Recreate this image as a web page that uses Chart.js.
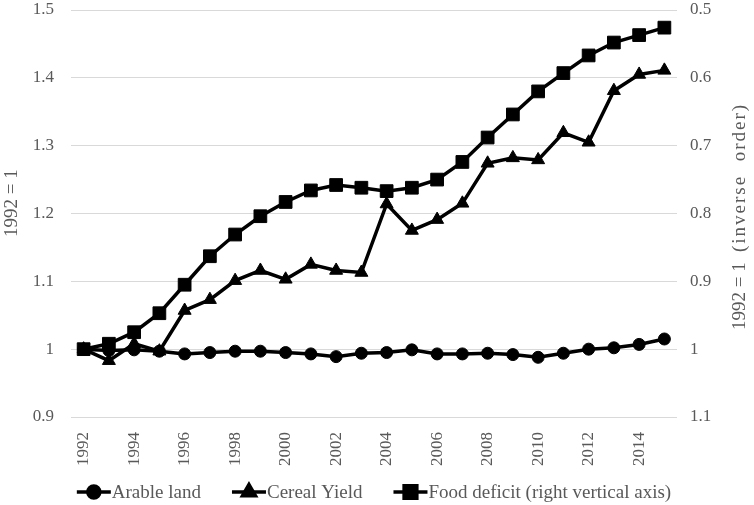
<!DOCTYPE html>
<html>
<head>
<meta charset="utf-8">
<script src="https://cdn.jsdelivr.net/npm/chart.js@4.4.1/dist/chart.umd.min.js"></script>
<style>
  html, body { margin: 0; padding: 0; background: #fff; }
  #wrap { width: 754px; height: 505px; position: relative; }
</style>
</head>
<body>
<div id="wrap"><canvas id="chart"></canvas></div>
<script>
// Данные графика (1992 = 1)
const years = ['1992', '1993', '1994', '1995', '1996', '1997', '1998', '1999', '2000', '2001', '2002', '2003',
  '2004', '2005', '2006', '2007', '2008', '2009', '2010', '2011', '2012', '2013', '2014', '2015'];
const arableLand = [1.000, 0.998, 0.999, 0.997, 0.993, 0.995, 0.997, 0.997, 0.995, 0.993, 0.989, 0.994,
  0.995, 0.999, 0.993, 0.993, 0.994, 0.992, 0.988, 0.994, 1.000, 1.002, 1.007, 1.015];
const cerealYield = [1.000, 0.983, 1.008, 0.997, 1.057, 1.073, 1.101, 1.116, 1.103, 1.125, 1.116, 1.113,
  1.214, 1.175, 1.191, 1.215, 1.274, 1.282, 1.279, 1.319, 1.305, 1.381, 1.405, 1.411];
// правая ось, обратный порядок
const foodDeficit = [1.000, 0.992, 0.975, 0.947, 0.905, 0.863, 0.831, 0.804, 0.783, 0.766, 0.758, 0.762,
  0.767, 0.762, 0.750, 0.724, 0.688, 0.654, 0.620, 0.593, 0.567, 0.548, 0.537, 0.526];

const seriesNames = ['Arable land', 'Cereal Yield', 'Food deficit (right vertical axis)'];
const leftTitle = '1992 = 1';
const rightTitle = ['1992 = 1', '(inverse  order)'];

const FONT = '"Liberation Serif", "Times New Roman", serif';
const TEXT_COLOR = '#595959';
const markers = [
  { pointStyle: 'circle', radius: 6 },
  { pointStyle: 'triangle', radius: 7.5 },
  { pointStyle: 'rect', radius: 9 },
];

const fmt = (v) => String(Number(v.toFixed(2)));

// Легенда: линия с маркером + текст
const legendPlugin = {
  id: 'lineLegend',
  afterDraw(chart) {
    const { ctx, chartArea } = chart;
    ctx.save();
    ctx.font = '19px ' + FONT;
    const lineLen = 34, textGap = 1, itemGap = 31;
    const widths = seriesNames.map((n) => ctx.measureText(n).width);
    const total = widths.reduce((s, w) => s + lineLen + textGap + w, 0) + itemGap * (seriesNames.length - 1);
    let x = (chartArea.left + chartArea.right) / 2 - total / 2;
    const y = 492;
    seriesNames.forEach((name, i) => {
      ctx.strokeStyle = '#000';
      ctx.fillStyle = '#000';
      ctx.lineWidth = 3.5;
      ctx.beginPath();
      ctx.moveTo(x, y);
      ctx.lineTo(x + lineLen, y);
      ctx.stroke();
      Chart.helpers.drawPoint(ctx, { pointStyle: markers[i].pointStyle, radius: markers[i].radius, borderWidth: 1, rotation: 0 }, x + lineLen / 2, y);
      ctx.fillStyle = TEXT_COLOR;
      ctx.textAlign = 'left';
      ctx.textBaseline = 'middle';
      ctx.fillText(name, x + lineLen + textGap, y + 1);
      x += lineLen + textGap + widths[i] + itemGap;
    });
    ctx.restore();
  },
};

// Заголовки осей (оба читаются снизу вверх)
const axisTitlesPlugin = {
  id: 'axisTitles',
  afterDraw(chart) {
    const { ctx } = chart;
    ctx.save();
    ctx.fillStyle = TEXT_COLOR;
    ctx.font = '19px ' + FONT;
    ctx.textAlign = 'left';
    ctx.textBaseline = 'middle';

    ctx.save();
    ctx.translate(12, 237);
    ctx.rotate(-Math.PI / 2);
    ctx.fillText(leftTitle, 0, 0);
    ctx.restore();

    ctx.save();
    ctx.translate(740, 330);
    ctx.rotate(-Math.PI / 2);
    ctx.fillText(rightTitle[0], 0, 0);
    ctx.letterSpacing = '2px';
    ctx.fillText(rightTitle[1], 78, 0);
    ctx.restore();

    ctx.restore();
  },
};

// убираем лишний отступ сверху/снизу от подписей оси
const fitVertical = (width) => (scale) => {
  scale.width = width;
  scale.paddingTop = 0;
  scale.paddingBottom = 0;
};

const ctx = document.getElementById('chart').getContext('2d');
new Chart(ctx, {
  type: 'line',
  data: {
    labels: years,
    datasets: [
      { label: seriesNames[0], data: arableLand, yAxisID: 'y', order: 2, ...markers[0] },
      { label: seriesNames[1], data: cerealYield, yAxisID: 'y', order: 1, ...markers[1] },
      { label: seriesNames[2], data: foodDeficit, yAxisID: 'y1', order: 0, ...markers[2] },
    ].map((ds) => ({
      ...ds,
      borderColor: '#000',
      backgroundColor: '#000',
      borderWidth: 3.5,
      pointBackgroundColor: '#000',
      pointBorderColor: '#000',
      pointBorderWidth: 1,
      pointRadius: ds.radius,
      pointHoverRadius: ds.radius,
      tension: 0,
    })),
  },
  options: {
    animation: false,
    responsive: true,
    maintainAspectRatio: false,
    layout: { padding: { top: 9, bottom: 28, left: 0, right: 0 } },
    plugins: {
      legend: { display: false },
      tooltip: { enabled: false },
    },
    scales: {
      x: {
        offset: true,
        grid: { display: false },
        border: { display: false },
        afterFit: (scale) => { scale.height = 60; },
        ticks: {
          autoSkip: false,
          minRotation: 90,
          maxRotation: 90,
          padding: 7,
          color: TEXT_COLOR,
          font: { family: FONT, size: 17 },
          callback: function (value, index) {
            return index % 2 === 0 ? this.getLabelForValue(value) : '';
          },
        },
      },
      y: {
        position: 'left',
        min: 0.9,
        max: 1.5,
        afterFit: fitVertical(71),
        grid: { color: '#d9d9d9', lineWidth: 1, drawTicks: false },
        border: { display: false },
        ticks: {
          stepSize: 0.1,
          padding: 17,
          color: TEXT_COLOR,
          font: { family: FONT, size: 17 },
          callback: fmt,
        },
      },
      y1: {
        position: 'right',
        min: 0.5,
        max: 1.1,
        reverse: true,
        afterFit: fitVertical(77),
        grid: { drawOnChartArea: false, drawTicks: false },
        border: { display: false },
        ticks: {
          stepSize: 0.1,
          padding: 13,
          color: TEXT_COLOR,
          font: { family: FONT, size: 17 },
          callback: fmt,
        },
      },
    },
  },
  plugins: [legendPlugin, axisTitlesPlugin],
});
</script>
</body>
</html>
